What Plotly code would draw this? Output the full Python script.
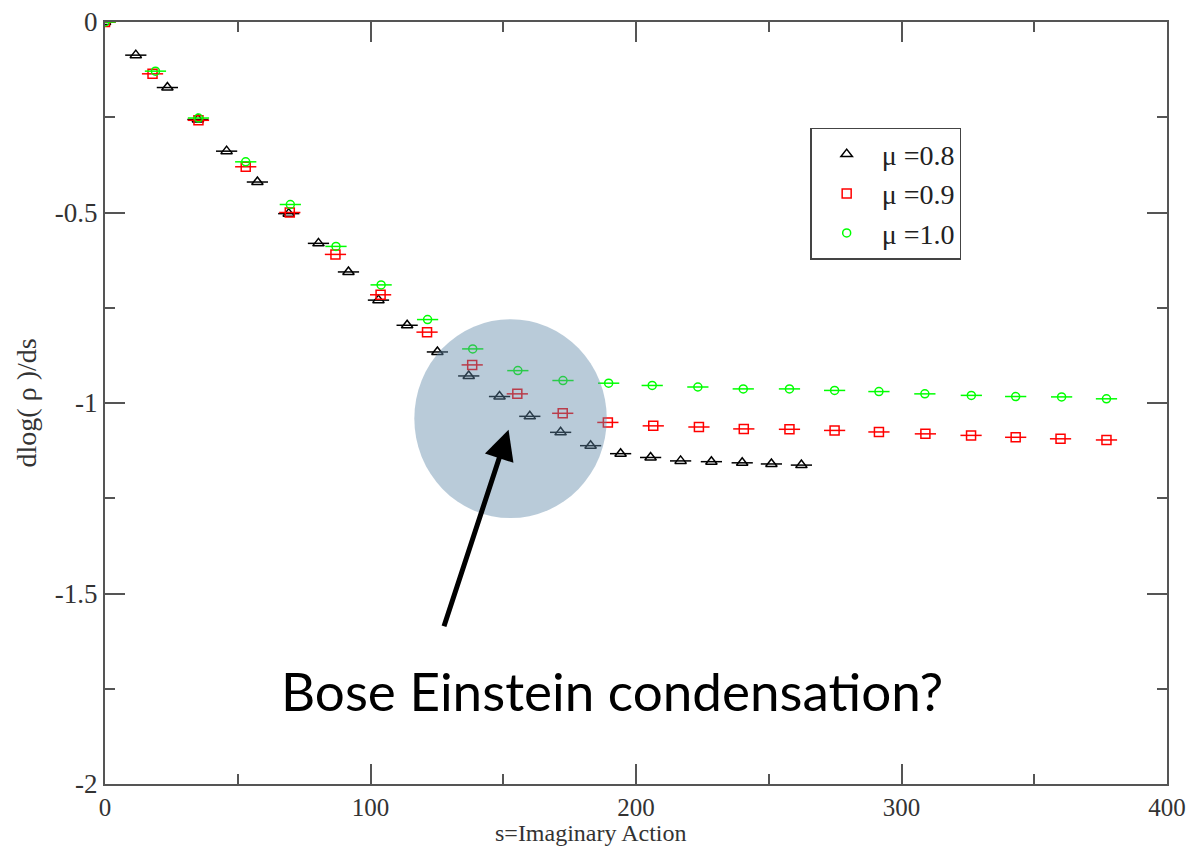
import plotly.graph_objects as go

# Imaginary action s and d log(rho)/ds for three chemical potentials
s_mu08 = [0, 11.6, 23.5, 35.0, 45.8, 57.4, 69.2, 80.4, 91.7, 103.0, 113.8, 125.2,
          137.0, 148.6, 160.0, 171.6, 182.9, 194.2, 205.5, 216.8, 228.4, 240.0, 251.0, 262.3]
d_mu08 = [0, -0.087, -0.172, -0.256, -0.339, -0.420, -0.503, -0.581, -0.656, -0.730,
          -0.796, -0.866, -0.929, -0.983, -1.035, -1.077, -1.112, -1.133, -1.143, -1.152,
          -1.154, -1.157, -1.160, -1.163]

s_mu09 = [0, 17.9, 35.2, 53.0, 69.6, 86.8, 103.8, 121.3, 138.3, 155.3, 172.4, 189.4,
          206.5, 223.7, 240.6, 257.8, 274.8, 291.5, 309.0, 326.2, 343.0, 359.9, 377.2]
d_mu09 = [0, -0.136, -0.258, -0.380, -0.500, -0.610, -0.716, -0.814, -0.900, -0.976,
          -1.027, -1.051, -1.060, -1.063, -1.068, -1.069, -1.072, -1.076, -1.081, -1.085,
          -1.090, -1.094, -1.097]

s_mu10 = [0, 19.0, 35.2, 53.0, 69.8, 87.0, 104.0, 121.5, 138.5, 155.5, 172.5, 189.7,
          206.1, 223.3, 240.4, 257.8, 274.8, 291.5, 308.8, 326.3, 343.0, 360.3, 377.2]
d_mu10 = [0, -0.129, -0.252, -0.367, -0.479, -0.589, -0.690, -0.781, -0.858, -0.915,
          -0.941, -0.948, -0.954, -0.958, -0.963, -0.963, -0.967, -0.970, -0.976, -0.980,
          -0.983, -0.984, -0.989]

# horizontal error bar half-width (in s units)
s_err = 4.0

series = [
    ("\u03bc =0.8", s_mu08, d_mu08, "black", "triangle-up-open", 10),
    ("\u03bc =0.9", s_mu09, d_mu09, "#ff0000", "square-open", 9),
    ("\u03bc =1.0", s_mu10, d_mu10, "#00ff00", "circle-open", 8),
]

fig = go.Figure()
for name, xs, ys, col, sym, size in series:
    fig.add_trace(go.Scatter(
        x=xs, y=ys, mode="markers", name=name,
        marker=dict(symbol=sym, size=size, color=col, line=dict(width=1.5, color=col)),
        error_x=dict(type="constant", value=s_err, color=col, thickness=1.5, width=0),
    ))

serif = "Liberation Serif, Times New Roman, serif"
axis_col = "#555555"

fig.update_xaxes(
    range=[0, 400], tickvals=[0, 100, 200, 300, 400], automargin=False,
    showgrid=False, zeroline=False,
    showline=True, linecolor=axis_col, linewidth=2, mirror="allticks",
    ticks="inside", ticklen=20, tickwidth=1.5, tickcolor=axis_col,
    minor=dict(dtick=50, ticks="inside", ticklen=10, tickwidth=1.5, tickcolor=axis_col),
    tickfont=dict(family=serif, size=25, color="#333333"),
)
fig.update_yaxes(
    range=[-2, 0], tickvals=[0, -0.5, -1, -1.5, -2], automargin=False,
    ticktext=["0", "-0.5", "-1", "-1.5", "-2"],
    showgrid=False, zeroline=False,
    showline=True, linecolor=axis_col, linewidth=2, mirror="allticks",
    ticks="inside", ticklen=20, tickwidth=1.5, tickcolor=axis_col,
    minor=dict(dtick=0.25, ticks="inside", ticklen=10, tickwidth=1.5, tickcolor=axis_col),
    tickfont=dict(family=serif, size=27, color="#333333"),
)

# highlighted region around the turnover
fig.add_shape(type="circle", xref="x", yref="y",
              x0=116.5, x1=189.0, y0=-0.780, y1=-1.302,
              fillcolor="rgba(95,136,168,0.44)", line=dict(width=0), layer="above")

fig.add_annotation(x=152, y=-1.07, ax=127.5, ay=-1.59, xref="x", yref="y",
                   axref="x", ayref="y", showarrow=True, arrowhead=2,
                   arrowwidth=5, arrowsize=1.2, arrowcolor="black", text="")

fig.add_annotation(x=0.477, y=0.123, xref="paper", yref="paper",
                   xanchor="center", yanchor="middle",
                   text="Bose Einstein condensation?", showarrow=False,
                   font=dict(family="Lato, sans-serif", size=53, color="black"))

# axis titles
fig.add_annotation(x=0.458, y=-0.064, xref="paper", yref="paper",
                   xanchor="center", yanchor="middle",
                   text="s=Imaginary Action", showarrow=False,
                   font=dict(family=serif, size=24, color="#333333"))
fig.add_annotation(x=-0.074, y=0.5, xref="paper", yref="paper",
                   xanchor="center", yanchor="middle",
                   text="dlog( \u03c1 )/ds", showarrow=False, textangle=-90,
                   font=dict(family=serif, size=28, color="#333333"))

fig.update_layout(
    width=1186, height=850,
    margin=dict(l=105, r=19, t=22, b=66),
    paper_bgcolor="white", plot_bgcolor="white",
    showlegend=True,
    legend=dict(x=0.664, y=0.861, xanchor="left", yanchor="top",
                bgcolor="white", bordercolor="#444444", borderwidth=1.5,
                font=dict(family=serif, size=28, color="#222222"),
                itemwidth=60),
)

fig.write_html("out.html")
